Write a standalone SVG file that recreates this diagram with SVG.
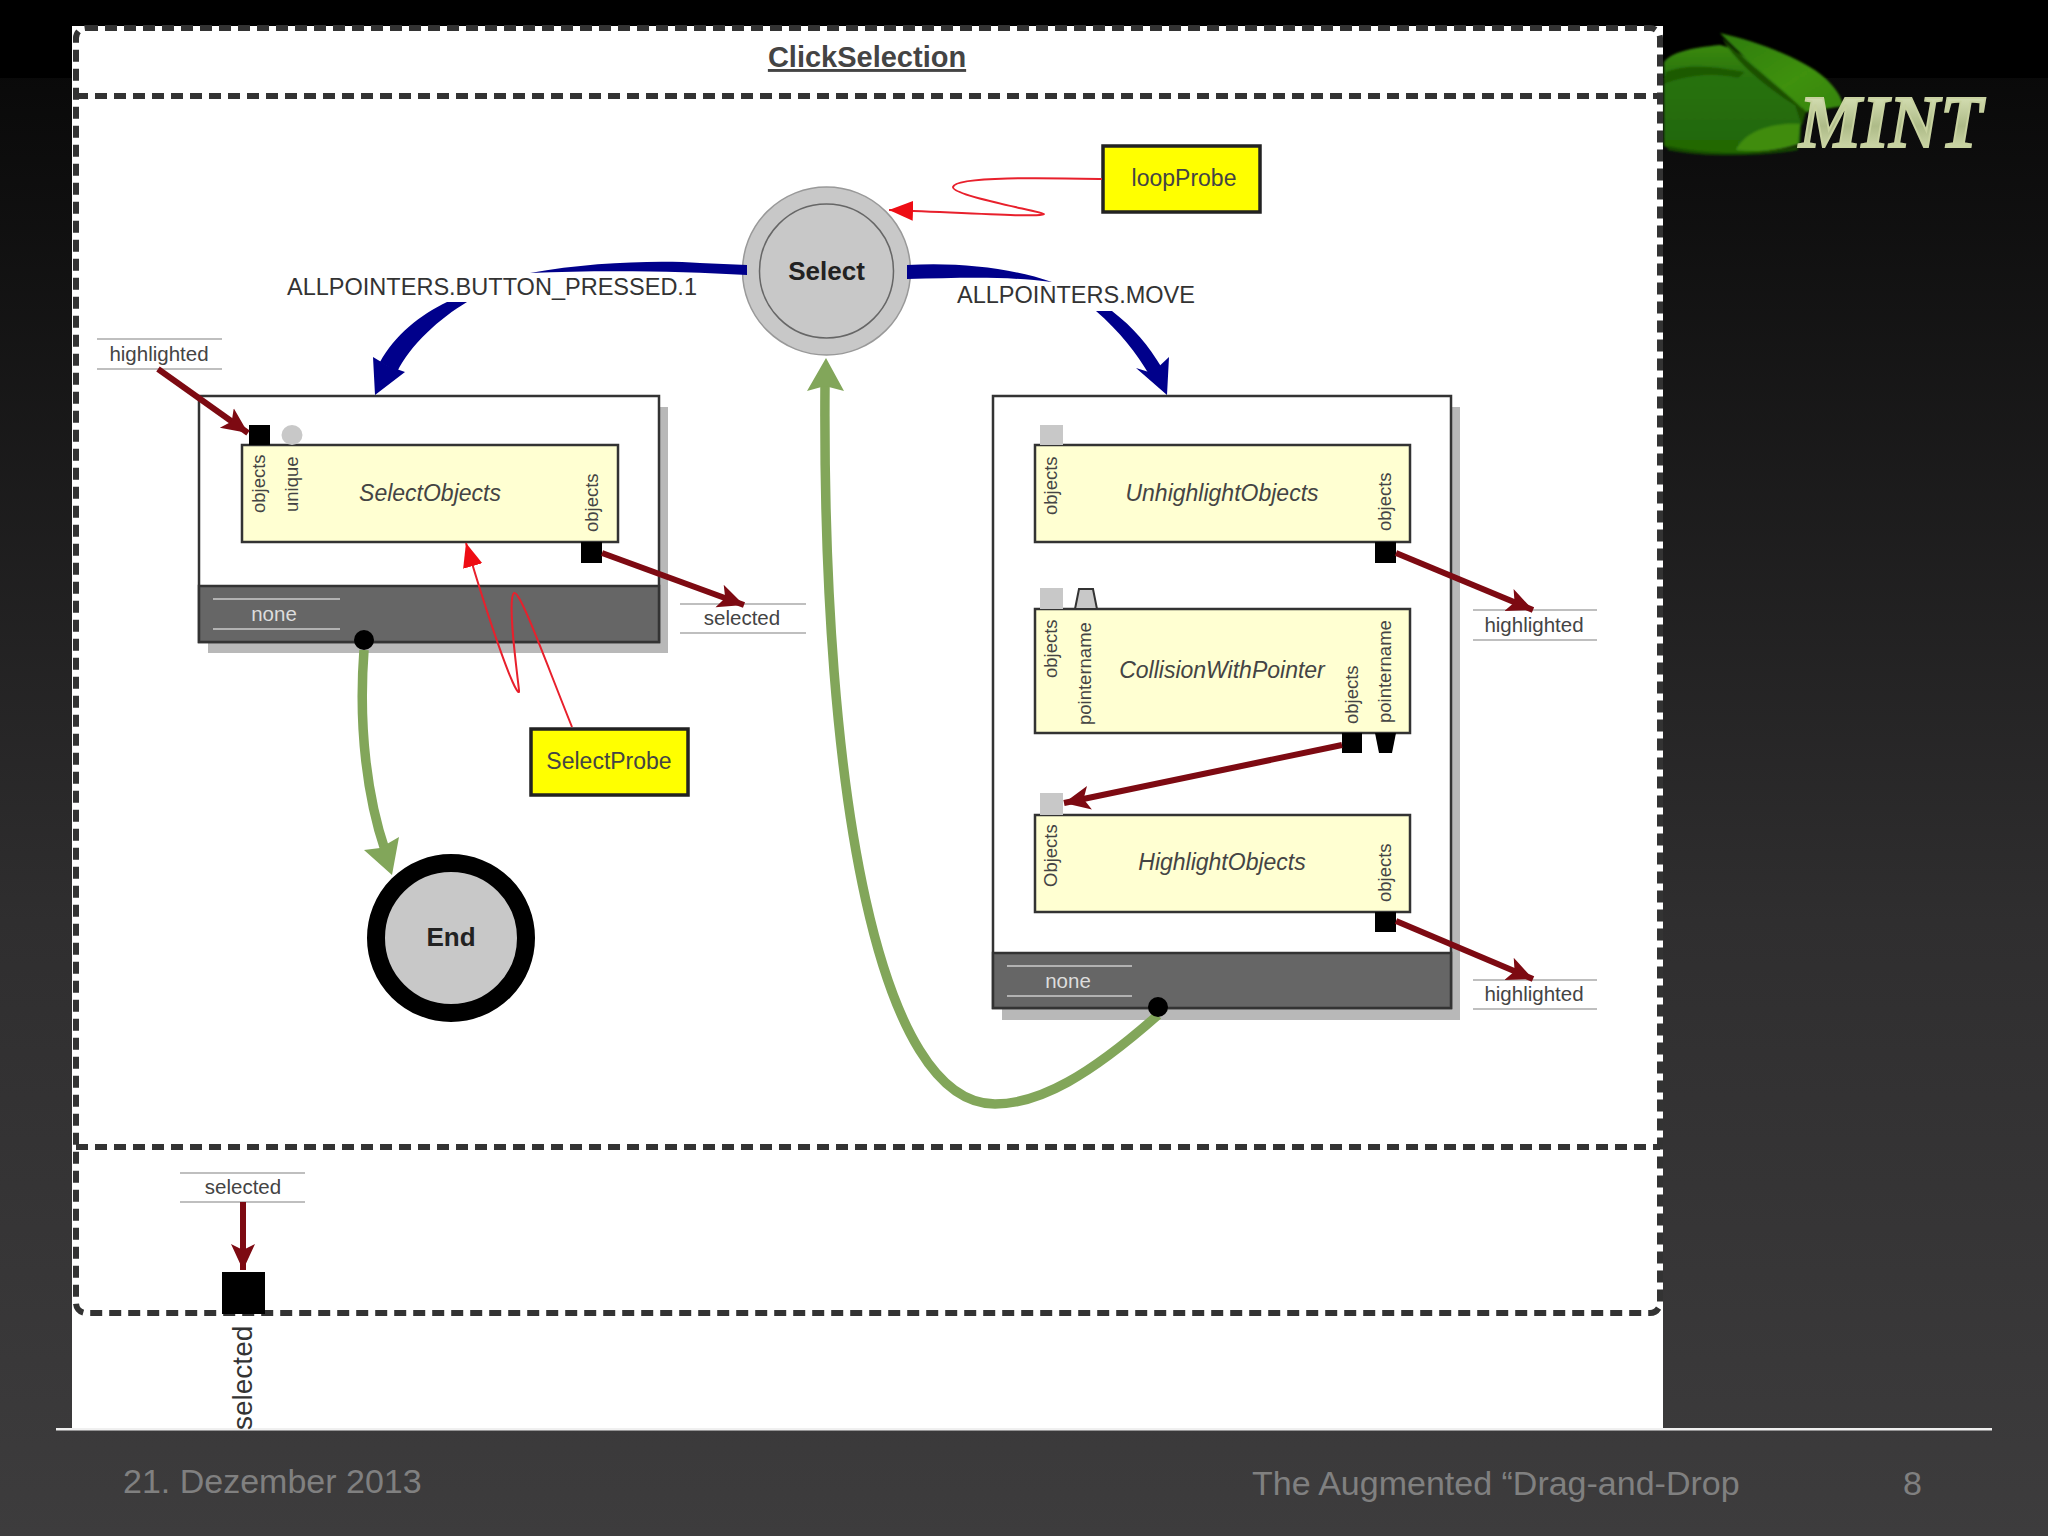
<svg xmlns="http://www.w3.org/2000/svg" width="2048" height="1536" viewBox="0 0 2048 1536">
<defs>
<linearGradient id="bg" x1="0" y1="0" x2="0" y2="1"><stop offset="0" stop-color="#060606"/><stop offset="0.6" stop-color="#2f2e2f"/><stop offset="1" stop-color="#3d3c3d"/></linearGradient>
<linearGradient id="mintg" x1="0" y1="0" x2="0" y2="1"><stop offset="0" stop-color="#e8f0c8"/><stop offset="0.55" stop-color="#aebb88"/><stop offset="1" stop-color="#e0e8bc"/></linearGradient>
<linearGradient id="leaf1" x1="0" y1="0" x2="0" y2="1"><stop offset="0" stop-color="#3b8a10"/><stop offset="0.3" stop-color="#28720a"/><stop offset="1" stop-color="#226606"/></linearGradient>
<linearGradient id="leaf2" x1="0" y1="0" x2="1" y2="1"><stop offset="0" stop-color="#2e7c08"/><stop offset="0.6" stop-color="#3f9110"/><stop offset="1" stop-color="#358408"/></linearGradient>
<filter id="soft" x="-5%" y="-5%" width="110%" height="110%"><feGaussianBlur stdDeviation="1"/></filter>
<marker id="ar" markerUnits="userSpaceOnUse" markerWidth="28" markerHeight="26" refX="26" refY="13" orient="auto"><path d="M0 1L26 13L0 25L6 13Z" fill="#7d0a12"/></marker>
<marker id="ar-red" markerUnits="userSpaceOnUse" markerWidth="26" markerHeight="24" refX="24" refY="12" orient="auto"><path d="M0 2L24 12L0 22Z" fill="#ee0d14"/></marker>
<style>
text{font-family:"Liberation Sans",Arial,sans-serif}
.dash{fill:none;stroke:#333;stroke-width:6;stroke-dasharray:12 7}
.box{fill:#fff;stroke:#333;stroke-width:2.5}
.shadow{fill:#b8b8b8}
.bar{fill:#666;stroke:#333;stroke-width:2.5}
.act{fill:#ffffd2;stroke:#333;stroke-width:2.5}
.port{fill:#000}
.gport{fill:#c8c8c8}
.lbl{font-size:20.5px;fill:#444;text-anchor:middle}
.rule{stroke:#aaa;stroke-width:1.5}
.wrule{stroke:#ccc;stroke-width:1.5}
.none{font-size:20.5px;fill:#ddd;text-anchor:middle}
.vert{font-size:18.5px;fill:#444;text-anchor:start}
.name{font-size:23px;font-style:italic;fill:#444;text-anchor:middle}
.state{font-size:26px;font-weight:bold;fill:#222;text-anchor:middle}
.probe{fill:#ff0;stroke:#222;stroke-width:3.5}
.ptext{font-size:23px;fill:#444;text-anchor:middle}
.trans{font-size:24px;fill:#333}
.foot{font-size:34px;fill:#808080}
.dr{fill:none;stroke:#7d0a12;stroke-width:6;marker-end:url(#ar)}
.rd{fill:none;stroke:#e8202c;stroke-width:2;marker-end:url(#ar-red)}
.bl{fill:#00008b}
.gr{fill:none;stroke:#82a65a;stroke-width:9.5}
.grh{fill:#82a65a}
</style>
</defs>
<rect width="2048" height="1536" fill="url(#bg)"/>
<rect width="2048" height="78" fill="#000"/>
<rect x="72" y="26" width="1591" height="1404" fill="#fff"/>
<rect x="56" y="1428" width="1936" height="2.500" fill="#f0f0f0"/>
<g id="logo">
<g filter="url(#soft)">
<path d="M1664 62C1672 52 1690 48 1720 45C1745 50 1775 85 1802 104L1800 144C1770 152 1730 156 1700 154C1685 152 1672 150 1664 146Z" fill="url(#leaf1)"/>
<path d="M1666 72C1690 62 1720 68 1745 72L1738 78C1710 72 1685 76 1664 84Z" fill="#1d5a06"/>
<path d="M1720 33C1760 42 1805 60 1825 78C1836 88 1842 98 1843 106L1806 112C1790 95 1750 65 1720 33Z" fill="url(#leaf2)"/>
<path d="M1722 38C1735 62 1770 90 1795 105L1802 126L1806 112C1785 92 1750 65 1722 38Z" fill="#1a4f06"/>
<path d="M1736 150C1745 130 1775 122 1800 124L1798 144C1775 152 1755 152 1736 150Z" fill="#3f8c10"/>
<path d="M1668 146C1700 154 1760 156 1798 146L1798 150C1760 157 1700 157 1668 150Z" fill="#144a04"/>
</g>
<text x="1799" y="147" font-size="74" font-weight="bold" font-style="italic" textLength="184" lengthAdjust="spacingAndGlyphs" style="font-family:'Liberation Serif',serif" fill="url(#mintg)" stroke="#c8d2a0" stroke-width="2">MINT</text>
</g>
<g id="frame">
<rect x="76" y="28" width="1584" height="1285" rx="10" class="dash"/>
<path d="M76 96H1660M76 1147H1660" class="dash"/>
<text x="867" y="67" font-size="29" font-weight="bold" fill="#444" text-anchor="middle" text-decoration="underline">ClickSelection</text>
</g>
<g id="select-state">
<circle cx="826.500" cy="271" r="84" fill="#c8c8c8" stroke="#999" stroke-width="1.500"/>
<circle cx="826.500" cy="271" r="67" fill="#c8c8c8" stroke="#666" stroke-width="1.500"/>
<text x="826.500" y="280" class="state">Select</text>
</g>
<g id="end-state">
<circle cx="451" cy="938" r="75" fill="#c8c8c8" stroke="#000" stroke-width="18"/>
<text x="451" y="946" class="state">End</text>
</g>
<g id="loopProbe">
<rect x="1103" y="146" width="157" height="66" class="probe"/>
<text x="1184" y="186" class="ptext">loopProbe</text>
</g>
<g id="SelectProbe">
<rect x="531" y="729" width="157" height="66" class="probe"/>
<text x="609" y="769" class="ptext">SelectProbe</text>
</g>
<g id="left-composite">
<rect x="208" y="407" width="460" height="246" class="shadow"/>
<rect x="199" y="396" width="460" height="246" class="box"/>
<rect x="199" y="586" width="460" height="56" class="bar"/>
<path d="M213 599H340M213 629H340" class="wrule"/>
<text x="274" y="621" class="none">none</text>
</g>
<g id="SelectObjects">
<rect x="242" y="445" width="376" height="97" class="act"/>
<rect x="249" y="425" width="21" height="20" class="port"/>
<ellipse cx="292" cy="435" rx="10.500" ry="10" class="gport"/>
<rect x="581" y="542" width="21" height="21" class="port"/>
<text transform="translate(265 513) rotate(-90)" class="vert">objects</text>
<text transform="translate(298 512) rotate(-90)" class="vert">unique</text>
<text transform="translate(598 532) rotate(-90)" class="vert">objects</text>
<text x="430" y="501" class="name">SelectObjects</text>
</g>
<g id="right-composite">
<rect x="1002" y="407" width="458" height="613" class="shadow"/>
<rect x="993" y="396" width="458" height="612" class="box"/>
<rect x="993" y="953" width="458" height="55" class="bar"/>
<path d="M1007 966H1132M1007 996H1132" class="wrule"/>
<text x="1068" y="988" class="none">none</text>
</g>
<g id="UnhighlightObjects">
<rect x="1035" y="445" width="375" height="97" class="act"/>
<rect x="1040" y="425" width="23" height="20" class="gport"/>
<rect x="1375" y="542" width="21" height="21" class="port"/>
<text transform="translate(1057 515) rotate(-90)" class="vert">objects</text>
<text transform="translate(1391 531) rotate(-90)" class="vert">objects</text>
<text x="1222" y="501" class="name">UnhighlightObjects</text>
</g>
<g id="CollisionWithPointer">
<rect x="1035" y="609" width="375" height="124" class="act"/>
<rect x="1040" y="588" width="23" height="21" class="gport"/>
<path d="M1075 609L1079 589H1093L1097 609Z" fill="#c8c8c8" stroke="#333" stroke-width="2"/>
<rect x="1342" y="733" width="20" height="20" class="port"/>
<path d="M1375 733H1396L1392 753H1379Z" class="port"/>
<text transform="translate(1057 678) rotate(-90)" class="vert">objects</text>
<text transform="translate(1091 725) rotate(-90)" class="vert">pointername</text>
<text transform="translate(1358 724) rotate(-90)" class="vert">objects</text>
<text transform="translate(1391 723) rotate(-90)" class="vert">pointername</text>
<text x="1222" y="678" class="name">CollisionWithPointer</text>
</g>
<g id="HighlightObjects">
<rect x="1035" y="815" width="375" height="97" class="act"/>
<rect x="1040" y="793" width="23" height="22" class="gport"/>
<rect x="1375" y="912" width="21" height="20" class="port"/>
<text transform="translate(1057 887) rotate(-90)" class="vert">Objects</text>
<text transform="translate(1391 902) rotate(-90)" class="vert">objects</text>
<text x="1222" y="870" class="name">HighlightObjects</text>
</g>
<g id="var-highlighted-in">
<path d="M97 339H222M97 369H222" class="rule"/>
<text x="159" y="361" class="lbl">highlighted</text>
</g>
<g id="var-selected-out">
<path d="M680 604H806M680 633H806" class="rule"/>
<text x="742" y="625" class="lbl">selected</text>
</g>
<g id="var-highlighted-1">
<path d="M1473 610H1597M1473 640H1597" class="rule"/>
<text x="1534" y="632" class="lbl">highlighted</text>
</g>
<g id="var-highlighted-2">
<path d="M1473 980H1597M1473 1009H1597" class="rule"/>
<text x="1534" y="1001" class="lbl">highlighted</text>
</g>
<g id="var-selected-bottom">
<path d="M180 1173H305M180 1202H305" class="rule"/>
<text x="243" y="1194" class="lbl">selected</text>
</g>
<g id="connectors">
<path d="M530 273C590 262 660 260 700 263L747 265V275C680 271 600 270 530 273Z" class="bl"/>
<path d="M467 302C440 318 410 345 397 372L380 362C395 335 420 315 447 302Z" class="bl"/>
<path d="M373 357L388 366L405 372L375 395Z" class="bl"/>
<path d="M907 265C960 262 1010 268 1052 282C1005 276 960 278 907 279Z" class="bl"/>
<path d="M1096 311L1112 311C1134 328 1148 345 1162 368L1150 376C1136 352 1120 332 1096 311Z" class="bl"/>
<path d="M1136 368L1152 373L1169 357L1167 395Z" class="bl"/>
<path d="M364 650C358 730 368 800 385 850" class="gr"/>
<path d="M392 875L364 850L380 848L399 837Z" class="grh"/>
<path d="M1158 1015C1090 1075 1040 1104 995 1104C880 1104 822 800 825 385" class="gr"/>
<path d="M826 358L807 391L825 386L844 391Z" class="grh"/>
<path d="M1102 179C1050 178 955 176 953 187C952 196 1044 212 1044 214C1044 218 950 212 889 210" class="rd"/>
<path d="M572 727C545 660 520 590 514 593C506 600 520 692 519 692C515 695 490 625 466 543" class="rd"/>
<path d="M158 369L248 433" class="dr"/>
<path d="M602 553L744 605" class="dr"/>
<path d="M1396 553L1533 610" class="dr"/>
<path d="M1396 921L1533 979" class="dr"/>
<path d="M1342 745L1064 803" class="dr"/>
<path d="M243 1202V1270" class="dr"/>
</g>
<g id="trans-labels">
<text x="287" y="295" class="trans" textLength="410" lengthAdjust="spacingAndGlyphs">ALLPOINTERS.BUTTON_PRESSED.1</text>
<text x="957" y="303" class="trans" textLength="238" lengthAdjust="spacingAndGlyphs">ALLPOINTERS.MOVE</text>
</g>
<g id="dots">
<circle cx="364" cy="640" r="10" fill="#000"/>
<circle cx="1158" cy="1007" r="10" fill="#000"/>
</g>
<g id="out-port">
<rect x="222" y="1272" width="43" height="42" class="port"/>
<text transform="translate(252 1430) rotate(-90)" font-size="28" fill="#333">selected</text>
</g>
<g id="footer">
<text x="123" y="1493" class="foot">21. Dezember 2013</text>
<text x="1252" y="1495" class="foot">The Augmented “Drag-and-Drop</text>
<text x="1903" y="1495" class="foot">8</text>
</g>
</svg>
